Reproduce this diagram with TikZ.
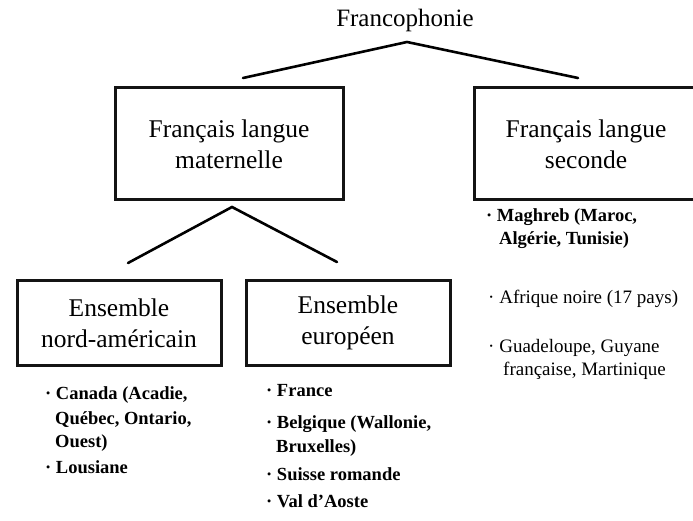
\documentclass[tikz,border=0pt]{standalone}
\usepackage{fontspec}
\setmainfont{Liberation Serif}
\begin{document}
\begin{tikzpicture}[x=1pt,y=-1pt,
  boxnode/.style={draw=black!92, line width=3pt, align=center, inner sep=0pt,
    font=\fontsize{25.5}{31}\selectfont},
  linkline/.style={line width=2.6pt, line cap=round},
  item/.style={anchor=base west, inner sep=0pt, font=\bfseries\fontsize{18.5}{22}\selectfont},
  itemr/.style={anchor=base west, inner sep=0pt, font=\fontsize{19}{22}\selectfont},
]
\useasboundingbox[fill=white] (0,0) rectangle (693,521);

% root
\node[anchor=base, inner sep=0pt, font=\fontsize{25}{28}\selectfont] (root) at (405,27) {Francophonie};

% boxes
\node[boxnode, minimum width=228pt, minimum height=112pt] (flm) at (229,144) {Français langue\\maternelle};
\node[boxnode, minimum width=224pt, minimum height=112pt] (fls) at (586,144) {Français langue\\seconde};
\node[boxnode, minimum width=204pt, minimum height=85pt] (ena) at (119,323) {Ensemble\\nord-américain};
\node[boxnode, minimum width=204pt, minimum height=85pt] (eeu) at (348,323) {Ensemble\\européen};

% connector points
\coordinate (topapex) at (407,42);
\coordinate (topl) at (243,78);
\coordinate (topr) at (578,78);
\coordinate (lowapex) at (232,207);
\coordinate (lowl) at (128,263);
\coordinate (lowr) at (337,262);

\draw[linkline] (topl) -- (topapex) -- (topr);
\draw[linkline] (lowl) -- (lowapex) -- (lowr);

% left list
\node[item] (na1) at (45,399) {· Canada (Acadie,};
\node[item] (na2) at (55,424) {Québec, Ontario,};
\node[item] (na3) at (55,447) {Ouest)};
\node[item] (na4) at (45,473) {· Lousiane};

% middle list
\node[item] (eu1) at (266,396) {· France};
\node[item] (eu2) at (266,428) {· Belgique (Wallonie,};
\node[item] (eu3) at (276,452) {Bruxelles)};
\node[item] (eu4) at (266,480) {· Suisse romande};
\node[item] (eu5) at (266,507) {· Val d'Aoste};

% right list
\node[item] (se1) at (486,222) {· Maghreb (Maroc,};
\node[item] (se2) at (499,245) {Algérie, Tunisie)};
\node[itemr] (se3) at (488,303) {· Afrique noire (17 pays)};
\node[itemr] (se4) at (488,352) {· Guadeloupe, Guyane};
\node[itemr] (se5) at (503,375) {française, Martinique};
\end{tikzpicture}
\end{document}
